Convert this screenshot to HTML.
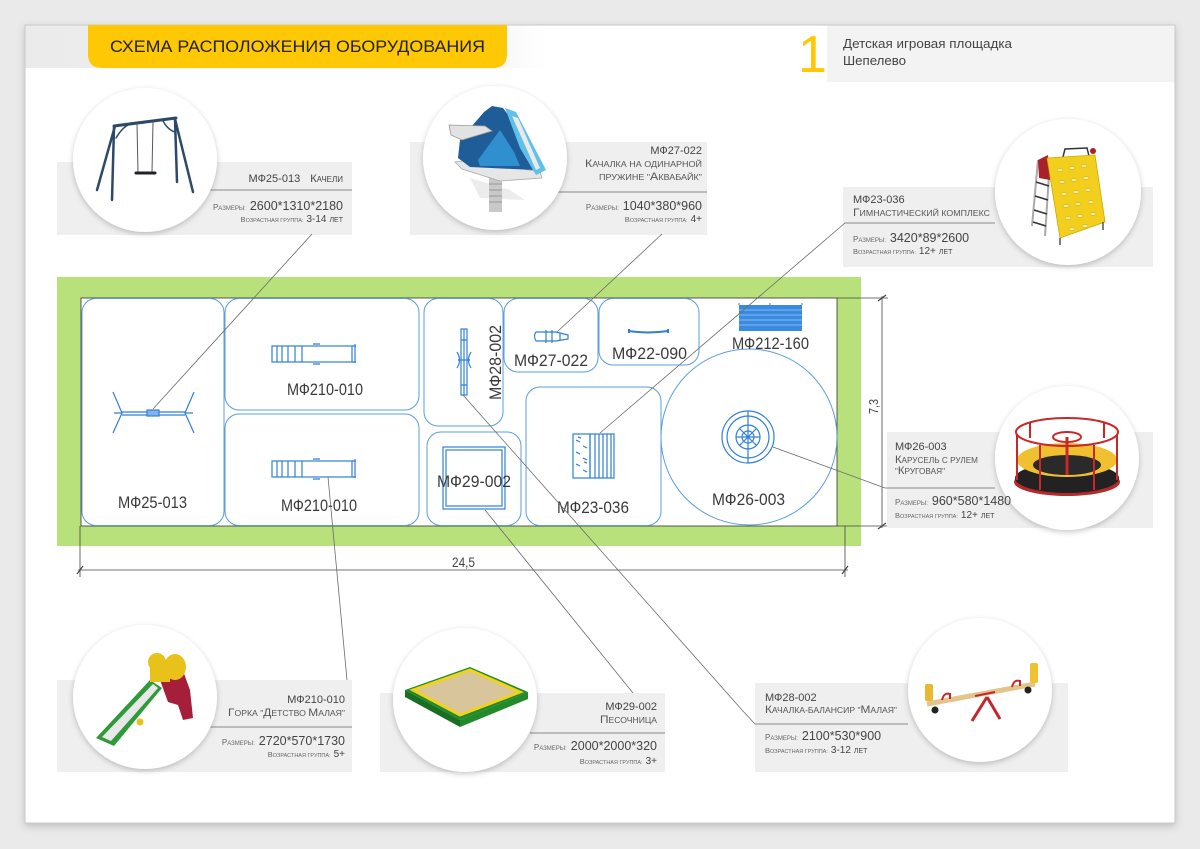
<!DOCTYPE html>
<html><head><meta charset="utf-8"><style>
html,body{margin:0;padding:0;background:#e9eae9;}
svg{display:block;}
text{font-family:"Liberation Sans","DejaVu Sans",sans-serif;}
</style></head><body>
<svg xmlns="http://www.w3.org/2000/svg" width="1200" height="849" viewBox="0 0 1200 849">
<defs>
<filter id="sh" x="-20%" y="-20%" width="140%" height="140%"><feDropShadow dx="0" dy="2" stdDeviation="3" flood-color="#000" flood-opacity="0.22"/></filter>
<filter id="psh" x="-5%" y="-5%" width="110%" height="110%"><feDropShadow dx="0" dy="3" stdDeviation="4" flood-color="#000" flood-opacity="0.18"/></filter>
<linearGradient id="hg" x1="0" x2="1" y1="0" y2="0"><stop offset="0" stop-color="#ebebeb"/><stop offset="0.8" stop-color="#eeeeee"/><stop offset="1" stop-color="#ffffff"/></linearGradient>
</defs>
<rect x="0" y="0" width="1200" height="849" fill="#e9eae9"/>
<!-- sheet -->
<rect x="25" y="25" width="1150" height="798" fill="#fff" stroke="#c9c9c9" stroke-width="1" filter="url(#psh)"/>
<!-- header -->
<rect x="25.5" y="25.5" width="520" height="42.5" fill="url(#hg)"/>
<path d="M88,25 H507 V54 Q507,68 493,68 H102 Q88,68 88,54 Z" fill="#fec805"/>
<text x="110" y="52" font-size="17" fill="#222" textLength="375" lengthAdjust="spacingAndGlyphs">СХЕМА РАСПОЛОЖЕНИЯ ОБОРУДОВАНИЯ</text>
<rect x="827" y="25.5" width="347.5" height="56.5" fill="#f3f3f3"/>
<text x="798" y="72" font-size="52" fill="#fec805">1</text>
<text x="843" y="48" font-size="13" fill="#444" textLength="169" lengthAdjust="spacingAndGlyphs">Детская игровая площадка</text>
<text x="843" y="65" font-size="13" fill="#444" textLength="63" lengthAdjust="spacingAndGlyphs">Шепелево</text>

<!-- ============ PLAN ============ -->
<rect x="57" y="277" width="804" height="269" fill="#b8e17b"/>
<rect x="81" y="298" width="756" height="228" fill="#fff" stroke="#333" stroke-width="0.8"/>
<g fill="none" stroke="#5b9ddf" stroke-width="1">
<rect x="82" y="298.5" width="142" height="227" rx="14"/>
<rect x="225" y="298.5" width="194" height="111.5" rx="14"/>
<rect x="225" y="414" width="194" height="111.5" rx="14"/>
<rect x="424" y="298.5" width="79" height="127.5" rx="14"/>
<rect x="504" y="298.5" width="94" height="73.5" rx="14"/>
<rect x="599" y="298.5" width="100" height="66.5" rx="14"/>
<rect x="427" y="432" width="94" height="93.5" rx="14"/>
<rect x="526" y="387" width="135" height="138.5" rx="14"/>
<circle cx="749" cy="437" r="88"/>
</g>
<!-- plan icons -->
<g stroke="#2f7fd6" fill="none" stroke-width="1.2">
<!-- swing -->
<line x1="122" y1="412" x2="185" y2="412"/><line x1="122" y1="415" x2="185" y2="415"/>
<path d="M113,392 L122,413 L113,433 M122,413 L114,413"/>
<path d="M194,392 L185,413 L194,433 M185,413 L193,413"/>
<rect x="147" y="410" width="12" height="6" fill="#7fb4ea"/>
<!-- slide top -->
<rect x="272" y="346" width="80" height="16"/>
<path d="M277,346 V362 M282,346 V362 M288,346 V362 M295,346 V362 M302,346 V362"/>
<path d="M355,344 V363 M352,346 H356 M352,362 H356"/>
<path d="M313,344 H320 M313,364 H320"/>
<!-- slide bottom -->
<rect x="272" y="461" width="80" height="16"/>
<path d="M277,461 V477 M282,461 V477 M288,461 V477 M295,461 V477 M302,461 V477"/>
<path d="M355,459 V478 M352,461 H356 M352,477 H356"/>
<path d="M313,459 H320 M313,479 H320"/>
<!-- seesaw -->
<rect x="461" y="329" width="6" height="66"/>
<path d="M461,340 H467 M461,385 H467 M464,329 V395"/>
<path d="M457,352 Q462,360 457,368 M471,352 Q466,360 471,368 M458,360 H470"/>
<!-- aquabike -->
<path d="M536,332 H556 L568,335 L568,339 L556,341 H536 Q533,336 536,332 Z"/>
<path d="M546,330 V343 M552,330 V343 M560,333 V340"/>
<!-- bench -->
<path d="M629,329 V333 M668,329 V333" stroke-width="2"/>
<path d="M629,331 Q648,334 668,331" stroke-width="2"/>
<!-- sandbox -->
<rect x="443" y="447" width="62" height="62"/>
<rect x="446" y="450" width="56" height="56"/>
<!-- gym -->
<rect x="573" y="434" width="17" height="44"/>
<rect x="590" y="434" width="24" height="44"/>
<path d="M595,434 V478 M599,434 V478 M603,434 V478 M607,434 V478 M611,434 V478"/>
<path d="M576,440 l4,2 M583,446 l4,2 M576,452 l4,2 M583,458 l4,2 M576,464 l4,2 M583,470 l4,2 M578,437 l3,1 M584,462 l3,1"/>
<!-- carousel -->
<circle cx="748" cy="437" r="26"/><circle cx="748" cy="437" r="21"/>
<circle cx="748" cy="437" r="12"/><circle cx="748" cy="437" r="6"/>
<path d="M748,411 V463 M736,437 H760 M740,429 L756,445 M756,429 L740,445"/>
</g>
<rect x="739" y="305" width="63" height="26" fill="#3a8be0"/>
<g stroke="#9ccaf5" stroke-width="0.8"><line x1="739" y1="310" x2="802" y2="310"/><line x1="739" y1="315" x2="802" y2="315"/><line x1="739" y1="320" x2="802" y2="320"/><line x1="739" y1="325" x2="802" y2="325"/></g>
<path d="M739,305 v-2 M770,305 v-2 M802,305 v-2" stroke="#2f7fd6"/>
<!-- plan labels -->
<g font-size="17" fill="#3a3a3a">
<text x="118" y="508" textLength="69" lengthAdjust="spacingAndGlyphs">МФ25-013</text>
<text x="287" y="395" textLength="76" lengthAdjust="spacingAndGlyphs">МФ210-010</text>
<text x="281" y="511" textLength="76" lengthAdjust="spacingAndGlyphs">МФ210-010</text>
<text transform="translate(501,400) rotate(-90)" textLength="75" lengthAdjust="spacingAndGlyphs">МФ28-002</text>
<text x="514" y="366" textLength="74" lengthAdjust="spacingAndGlyphs">МФ27-022</text>
<text x="612" y="359" textLength="75" lengthAdjust="spacingAndGlyphs">МФ22-090</text>
<text x="732" y="349" textLength="77" lengthAdjust="spacingAndGlyphs">МФ212-160</text>
<text x="712" y="505" textLength="73" lengthAdjust="spacingAndGlyphs">МФ26-003</text>
<text x="437" y="487" textLength="74" lengthAdjust="spacingAndGlyphs">МФ29-002</text>
<text x="557" y="513" textLength="72" lengthAdjust="spacingAndGlyphs">МФ23-036</text>
</g>
<!-- dimensions -->
<g stroke="#444" stroke-width="0.8" fill="none">
<line x1="80" y1="526" x2="80" y2="577"/>
<line x1="845" y1="526" x2="845" y2="577"/>
<line x1="78" y1="570" x2="848" y2="570"/>
<path d="M77,574 L83,566 M842,574 L848,566" stroke-width="1.2"/>
<line x1="837" y1="298" x2="888" y2="298"/>
<line x1="837" y1="526" x2="888" y2="526"/>
<line x1="882" y1="296" x2="882" y2="528"/>
<path d="M878,301 L886,295 M878,529 L886,523" stroke-width="1.2"/>
</g>
<text x="452" y="567" font-size="14" fill="#444" textLength="23" lengthAdjust="spacingAndGlyphs">24,5</text>
<text transform="translate(878,414) rotate(-90)" font-size="13" fill="#444" textLength="15" lengthAdjust="spacingAndGlyphs">7,3</text>

<!-- ============ CARDS ============ -->
<g fill="#efefef">
<rect x="57" y="162" width="295" height="73"/>
<rect x="410" y="142" width="297" height="93"/>
<rect x="843" y="187" width="310" height="80"/>
<rect x="887" y="432" width="266" height="96"/>
<rect x="57" y="680" width="295" height="92"/>
<rect x="380" y="693" width="285" height="79"/>
<rect x="755" y="683" width="313" height="89"/>
</g>
<!-- leader lines -->
<g stroke="#6a6a6a" stroke-width="0.8" fill="none">
<line x1="153" y1="409" x2="312" y2="234"/>
<line x1="557" y1="332" x2="662" y2="234"/>
<polyline points="600,433 845,223 995,223"/>
<polyline points="773,447 885,488 995,488"/>
<line x1="328" y1="477" x2="347" y2="680"/>
<line x1="485" y1="510" x2="633" y2="693"/>
<polyline points="463,395 742,710 755,724 908,724"/>
</g>
<g stroke="#8a8a8a" stroke-width="1" fill="none">
<line x1="208" y1="190" x2="352" y2="190"/>
<line x1="557" y1="192" x2="707" y2="192"/>
<line x1="210" y1="727" x2="352" y2="727"/>
<line x1="530" y1="733" x2="665" y2="733"/>
</g>
<!-- circles -->
<g fill="#fff" filter="url(#sh)">
<circle cx="145" cy="160" r="72"/>
<circle cx="495" cy="158" r="72"/>
<circle cx="1068" cy="192" r="73"/>
<circle cx="1067" cy="458" r="72"/>
<circle cx="145" cy="697" r="72"/>
<circle cx="465" cy="700" r="72"/>
<circle cx="980" cy="690" r="72"/>
</g>

<!-- swing illustration -->
<g stroke="#2c4a68" stroke-linecap="round" fill="none">
<line x1="114" y1="126" x2="176" y2="118" stroke-width="3"/>
<line x1="115" y1="126" x2="97" y2="190" stroke-width="2.5"/>
<line x1="114" y1="127" x2="112" y2="200" stroke-width="2.5"/>
<line x1="175" y1="119" x2="177" y2="182" stroke-width="2.5"/>
<line x1="175" y1="119" x2="193" y2="192" stroke-width="2.5"/>
<path d="M116,138 Q122,128 128,125 M163,121 Q168,130 175,132" stroke-width="1.5"/>
<line x1="137" y1="124" x2="138" y2="172" stroke-width="1" stroke="#556"/>
<line x1="153" y1="122" x2="152" y2="172" stroke-width="1" stroke="#556"/>
<line x1="136" y1="173" x2="155" y2="173" stroke-width="3" stroke="#222"/>
</g>
<!-- aquabike illustration -->
<g>
<polygon points="470,178 510,190 525,200 480,198" fill="#ececec"/>
<rect x="489" y="178" width="13" height="34" fill="#c8c8c8"/>
<path d="M489,184 h13 M489,190 h13 M489,196 h13 M489,202 h13" stroke="#999" stroke-width="1"/>
<polygon points="455,162 470,160 540,172 542,178 500,181 462,169" fill="#e6e6e6" stroke="#aaa" stroke-width="0.8"/>
<polygon points="460,140 484,112 492,106 503,108 512,120 528,158 534,170 470,167 458,158" fill="#1f5d99"/>
<polygon points="478,160 500,130 514,152 520,166 480,166" fill="#2f8fcf"/>
<polygon points="505,108 516,112 546,170 536,175 520,148" fill="#5fc0e8"/>
<polygon points="512,116 518,118 540,168 536,170" fill="#eaeaea"/>
<polygon points="449,125 485,126 492,131 462,140 451,135" fill="#e2e2e2" stroke="#999" stroke-width="0.8"/>
</g>
<!-- gym illustration -->
<g>
<line x1="1038" y1="160" x2="1032" y2="226" stroke="#aaa" stroke-width="2"/>
<line x1="1050" y1="160" x2="1045" y2="236" stroke="#aaa" stroke-width="2"/>
<path d="M1036,182 L1049,186 M1035,196 L1048,200 M1034,210 L1047,214 M1033,222 L1046,226" stroke="#333" stroke-width="1.5"/>
<polygon points="1038,160 1048,155 1050,180 1039,178" fill="#a8202a"/>
<path d="M1063,157 L1065,149 L1087,148 L1089,156" stroke="#333" stroke-width="1.5" fill="none"/>
<polygon points="1047,158 1095,155 1105,222 1060,238" fill="#f2cf1d" stroke="#c9a800" stroke-width="0.8"/>
<circle cx="1093" cy="151" r="3" fill="#a8202a"/>
<g fill="#f8eaa0" stroke="#b89a00" stroke-width="0.4">
<ellipse cx="1060" cy="170" rx="3" ry="1.5"/><ellipse cx="1072" cy="168" rx="3" ry="1.5"/><ellipse cx="1084" cy="166" rx="3" ry="1.5"/>
<ellipse cx="1062" cy="182" rx="3" ry="1.5"/><ellipse cx="1074" cy="180" rx="3" ry="1.5"/><ellipse cx="1086" cy="178" rx="3" ry="1.5"/>
<ellipse cx="1064" cy="194" rx="3" ry="1.5"/><ellipse cx="1076" cy="192" rx="3" ry="1.5"/><ellipse cx="1088" cy="190" rx="3" ry="1.5"/>
<ellipse cx="1066" cy="206" rx="3" ry="1.5"/><ellipse cx="1078" cy="204" rx="3" ry="1.5"/><ellipse cx="1091" cy="202" rx="3" ry="1.5"/>
<ellipse cx="1068" cy="218" rx="3" ry="1.5"/><ellipse cx="1080" cy="216" rx="3" ry="1.5"/><ellipse cx="1093" cy="214" rx="3" ry="1.5"/>
<ellipse cx="1072" cy="229" rx="3" ry="1.5"/><ellipse cx="1085" cy="226" rx="3" ry="1.5"/>
</g>
<path d="M1060,238 v7 M1103,222 v8" stroke="#555" stroke-width="1.5"/>
</g>
<!-- carousel illustration -->
<g>
<ellipse cx="1067" cy="482" rx="53" ry="14" fill="#b52a2a"/>
<ellipse cx="1067" cy="478" rx="52" ry="15" fill="#222"/>
<ellipse cx="1067" cy="460" rx="50" ry="17" fill="#f0c030"/>
<ellipse cx="1067" cy="465" rx="34" ry="10" fill="#2a2a2a"/>
<g stroke="#c8282a" stroke-width="2" fill="none">
<ellipse cx="1067" cy="432" rx="51" ry="14"/>
<path d="M1017,434 V480 M1117,434 V480 M1040,445 V490 M1094,445 V490 M1030,422 V438 M1104,422 V438"/>
<ellipse cx="1067" cy="437" rx="14" ry="5"/>
<line x1="1067" y1="437" x2="1067" y2="475" stroke-width="3"/>
</g>
</g>
<!-- slide illustration -->
<g>
<polygon points="160,680 182,668 190,690 193,718 183,720 178,705 168,702" fill="#a51e3a"/>
<polygon points="150,680 162,688 114,746 96,738" fill="#2f9a3a"/>
<polygon points="153,684 158,688 111,741 102,737" fill="#e8e8e8"/>
<circle cx="157" cy="662" r="9" fill="#e8c21a"/>
<ellipse cx="175" cy="667" rx="11" ry="13" fill="#e8c21a"/>
<rect x="150" y="668" width="20" height="14" fill="#e8c21a"/>
<circle cx="140" cy="722" r="3.5" fill="#e8c21a"/>
</g>
<!-- sandbox illustration -->
<g>
<polygon points="405,690 460,720 460,727 405,697" fill="#1a6e22"/>
<polygon points="460,720 528,692 528,699 460,727" fill="#238a2c"/>
<polygon points="405,690 470,667 528,692 460,720" fill="#1f8a2a"/>
<polygon points="413,690 470,670 520,692 460,715" fill="#d8c59c" stroke="#f2d21a" stroke-width="3"/>
</g>
<!-- seesaw illustration -->
<g>
<line x1="987" y1="697" x2="972" y2="721" stroke="#c0282d" stroke-width="3"/>
<line x1="987" y1="697" x2="1000" y2="719" stroke="#c0282d" stroke-width="3"/>
<line x1="927" y1="704" x2="1035" y2="684" stroke="#e3c48a" stroke-width="5"/>
<line x1="975" y1="696" x2="995" y2="692" stroke="#c0282d" stroke-width="2"/>
<path d="M942,700 q2,-8 8,-6 v5 M1012,687 q2,-8 8,-6 v5" stroke="#c0282d" stroke-width="2" fill="none"/>
<rect x="925" y="684" width="8" height="17" rx="2" fill="#e8b830"/>
<rect x="1030" y="663" width="8" height="20" rx="2" fill="#f0c230"/>
<circle cx="935" cy="710" r="3.5" fill="#222"/>
<circle cx="1028" cy="690" r="3.5" fill="#222"/>
</g>

<!-- ============ CARD TEXT ============ -->
<!-- swing -->
<text x="343" y="182" text-anchor="end" fill="#444"><tspan font-size="11">МФ25-013</tspan><tspan font-size="11" dx="10">К</tspan><tspan font-size="8">АЧЕЛИ</tspan></text>
<text x="343" y="210" text-anchor="end" fill="#666"><tspan font-size="8">Р</tspan><tspan font-size="6">АЗМЕРЫ:</tspan><tspan font-size="12.5" dx="4" fill="#444">2600*1310*2180</tspan></text>
<text x="343" y="222" text-anchor="end" fill="#666"><tspan font-size="7.5">В</tspan><tspan font-size="5.5">ОЗРАСТНАЯ ГРУППА:</tspan><tspan font-size="10" dx="3" fill="#444">3-14</tspan><tspan font-size="7" dx="3" fill="#444">ЛЕТ</tspan></text>
<!-- aquabike -->
<text x="702" y="154" text-anchor="end" font-size="11" fill="#444">МФ27-022</text>
<text x="702" y="167" text-anchor="end" fill="#555" textLength="117" lengthAdjust="spacingAndGlyphs"><tspan font-size="11">К</tspan><tspan font-size="8">АЧАЛКА НА ОДИНАРНОЙ</tspan></text>
<text x="702" y="180" text-anchor="end" fill="#555" textLength="103" lengthAdjust="spacingAndGlyphs"><tspan font-size="8">ПРУЖИНЕ "</tspan><tspan font-size="11">А</tspan><tspan font-size="8">КВАБАЙК"</tspan></text>
<text x="702" y="210" text-anchor="end" fill="#666"><tspan font-size="8">Р</tspan><tspan font-size="6">АЗМЕРЫ:</tspan><tspan font-size="12.5" dx="4" fill="#444">1040*380*960</tspan></text>
<text x="702" y="222" text-anchor="end" fill="#666"><tspan font-size="7.5">В</tspan><tspan font-size="5.5">ОЗРАСТНАЯ ГРУППА:</tspan><tspan font-size="10" dx="3" fill="#444">4+</tspan></text>
<!-- gym -->
<text x="853" y="203" font-size="11" fill="#444">МФ23-036</text>
<text x="853" y="216" fill="#555" textLength="137" lengthAdjust="spacingAndGlyphs"><tspan font-size="11">Г</tspan><tspan font-size="8">ИМНАСТИЧЕСКИЙ КОМПЛЕКС</tspan></text>
<text x="853" y="242" fill="#666"><tspan font-size="8">Р</tspan><tspan font-size="6">АЗМЕРЫ:</tspan><tspan font-size="12.5" dx="4" fill="#444">3420*89*2600</tspan></text>
<text x="853" y="254" fill="#666"><tspan font-size="7.5">В</tspan><tspan font-size="5.5">ОЗРАСТНАЯ ГРУППА:</tspan><tspan font-size="10" dx="3" fill="#444">12+</tspan><tspan font-size="7" dx="3" fill="#444">ЛЕТ</tspan></text>
<!-- carousel -->
<text x="895" y="450" font-size="11" fill="#444">МФ26-003</text>
<text x="895" y="463" fill="#555" textLength="83" lengthAdjust="spacingAndGlyphs"><tspan font-size="11">К</tspan><tspan font-size="8">АРУСЕЛЬ С РУЛЕМ</tspan></text>
<text x="895" y="474" fill="#555" textLength="50" lengthAdjust="spacingAndGlyphs"><tspan font-size="8">"</tspan><tspan font-size="11">К</tspan><tspan font-size="8">РУГОВАЯ"</tspan></text>
<text x="895" y="505" fill="#666"><tspan font-size="8">Р</tspan><tspan font-size="6">АЗМЕРЫ:</tspan><tspan font-size="12.5" dx="4" fill="#444">960*580*1480</tspan></text>
<text x="895" y="518" fill="#666"><tspan font-size="7.5">В</tspan><tspan font-size="5.5">ОЗРАСТНАЯ ГРУППА:</tspan><tspan font-size="10" dx="3" fill="#444">12+</tspan><tspan font-size="7" dx="3" fill="#444">ЛЕТ</tspan></text>
<!-- slide -->
<text x="345" y="703" text-anchor="end" font-size="11" fill="#444">МФ210-010</text>
<text x="345" y="716" text-anchor="end" fill="#555" textLength="117" lengthAdjust="spacingAndGlyphs"><tspan font-size="11">Г</tspan><tspan font-size="8">ОРКА "</tspan><tspan font-size="11">Д</tspan><tspan font-size="8">ЕТСТВО </tspan><tspan font-size="11">М</tspan><tspan font-size="8">АЛАЯ"</tspan></text>
<text x="345" y="745" text-anchor="end" fill="#666"><tspan font-size="8">Р</tspan><tspan font-size="6">АЗМЕРЫ:</tspan><tspan font-size="12.5" dx="4" fill="#444">2720*570*1730</tspan></text>
<text x="345" y="757" text-anchor="end" fill="#666"><tspan font-size="7.5">В</tspan><tspan font-size="5.5">ОЗРАСТНАЯ ГРУППА:</tspan><tspan font-size="10" dx="3" fill="#444">5+</tspan></text>
<!-- sandbox -->
<text x="657" y="710" text-anchor="end" font-size="11" fill="#444">МФ29-002</text>
<text x="657" y="723" text-anchor="end" fill="#555" textLength="57" lengthAdjust="spacingAndGlyphs"><tspan font-size="11">П</tspan><tspan font-size="8">ЕСОЧНИЦА</tspan></text>
<text x="657" y="750" text-anchor="end" fill="#666"><tspan font-size="8">Р</tspan><tspan font-size="6">АЗМЕРЫ:</tspan><tspan font-size="12.5" dx="4" fill="#444">2000*2000*320</tspan></text>
<text x="657" y="764" text-anchor="end" fill="#666"><tspan font-size="7.5">В</tspan><tspan font-size="5.5">ОЗРАСТНАЯ ГРУППА:</tspan><tspan font-size="10" dx="3" fill="#444">3+</tspan></text>
<!-- seesaw -->
<text x="765" y="701" font-size="11" fill="#444">МФ28-002</text>
<text x="765" y="713" fill="#555" textLength="132" lengthAdjust="spacingAndGlyphs"><tspan font-size="11">К</tspan><tspan font-size="8">АЧАЛКА-БАЛАНСИР "</tspan><tspan font-size="11">М</tspan><tspan font-size="8">АЛАЯ"</tspan></text>
<text x="765" y="740" fill="#666"><tspan font-size="8">Р</tspan><tspan font-size="6">АЗМЕРЫ:</tspan><tspan font-size="12.5" dx="4" fill="#444">2100*530*900</tspan></text>
<text x="765" y="753" fill="#666"><tspan font-size="7.5">В</tspan><tspan font-size="5.5">ОЗРАСТНАЯ ГРУППА:</tspan><tspan font-size="10" dx="3" fill="#444">3-12</tspan><tspan font-size="7" dx="3" fill="#444">ЛЕТ</tspan></text>
</svg>
</body></html>
